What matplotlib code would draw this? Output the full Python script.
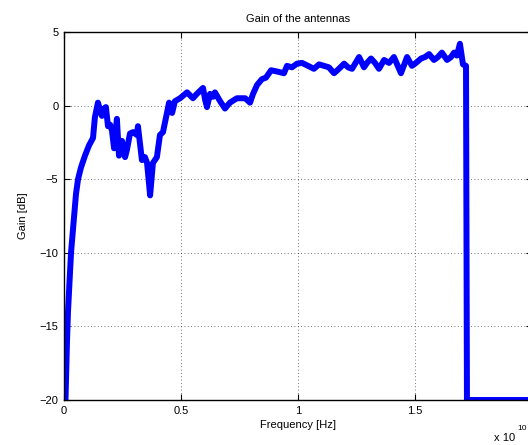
import numpy as np
import matplotlib
matplotlib.use('Agg')
import matplotlib.pyplot as plt

plt.rcParams['font.family'] = ['Liberation Sans', 'DejaVu Sans']

# Frequency in units of 1e10 Hz, gain in dB
freq = [0.0064, 0.0128, 0.0171, 0.0235, 0.030, 0.0406, 0.0513, 0.060, 0.0726, 0.0897,
        0.107, 0.124, 0.132, 0.145, 0.154, 0.162, 0.171, 0.179, 0.188, 0.197,
        0.205, 0.214, 0.226, 0.235, 0.248, 0.261, 0.269, 0.282, 0.295, 0.312,
        0.316, 0.333, 0.346, 0.355, 0.368, 0.380, 0.397, 0.410, 0.423, 0.440,
        0.449, 0.462, 0.474, 0.496, 0.526, 0.551, 0.568, 0.581, 0.594, 0.603,
        0.611, 0.624, 0.637, 0.645, 0.667, 0.688, 0.709, 0.739, 0.774, 0.795,
        0.808, 0.825, 0.846, 0.863, 0.885, 0.915, 0.940, 0.953, 0.974, 0.996,
        1.017, 1.043, 1.068, 1.090, 1.111, 1.132, 1.154, 1.175, 1.197, 1.214,
        1.231, 1.261, 1.282, 1.295, 1.312, 1.329, 1.346, 1.368, 1.389, 1.410,
        1.440, 1.466, 1.487, 1.504, 1.526, 1.543, 1.560, 1.581, 1.598, 1.615,
        1.637, 1.654, 1.667, 1.679, 1.692, 1.705, 1.718, 1.722, 2.0]
gain = [-20, -16, -14, -12, -10, -8, -6, -5, -4.2, -3.4,
        -2.7, -2.2, -0.8, 0.2, -0.3, -0.7, -0.2, -0.1, -1.4, -1.3,
        -1.7, -2.9, -0.9, -3.4, -2.4, -3.5, -3.0, -1.9, -1.8, -2.0,
        -1.4, -3.7, -3.5, -3.9, -6.1, -3.9, -3.5, -2.0, -1.8, -0.5,
        0.2, -0.5, 0.3, 0.5, 0.9, 0.5, 0.8, 1.0, 1.2, 0.4,
        -0.1, 0.8, 0.6, 0.9, 0.3, -0.2, 0.2, 0.5, 0.5, 0.2,
        0.8, 1.4, 1.8, 1.9, 2.4, 2.3, 2.2, 2.7, 2.6, 2.85,
        2.9, 2.7, 2.5, 2.8, 2.7, 2.6, 2.2, 2.5, 2.85, 2.6,
        2.5, 3.3, 2.6, 2.9, 3.2, 2.9, 2.5, 3.1, 2.9, 3.3,
        2.2, 3.3, 2.7, 2.9, 3.2, 3.3, 3.5, 3.1, 3.3, 3.6,
        3.1, 3.3, 3.6, 3.4, 4.2, 2.8, 2.7, -20, -20]

xticks = [0, 0.5, 1, 1.5, 2]
xticklabels = ['0', '0.5', '1', '1.5', '2']
yticks = [-20, -15, -10, -5, 0, 5]

fig = plt.figure(figsize=(5.28, 4.45), dpi=100)
# axes run a little past the right edge, like the cropped original
ax = fig.add_axes([64 / 528, 45 / 445, 468 / 528, 368 / 445])

ax.plot(freq, gain, color='#0000ff', linewidth=4.3, solid_joinstyle='round')

ax.set_xlim(0, 2)
ax.set_ylim(-20, 5)
ax.set_xticks(xticks)
ax.set_xticklabels(xticklabels)
ax.set_yticks(yticks)
ax.set_yticklabels([str(v).replace('-', '\u2212') for v in yticks])

ax.grid(True, color='k', linestyle=(0, (1, 3)), linewidth=0.6, alpha=0.7)
ax.tick_params(direction='in', top=True, right=True, length=4, width=0.8,
               labelsize=8, pad=4)
for sp in ax.spines.values():
    sp.set_linewidth(1.0)

ax.set_title('Gain of the antennas', fontsize=8, pad=7)
ax.set_xlabel('Frequency [Hz]', fontsize=8, labelpad=3)
ax.set_ylabel('Gain [dB]', fontsize=8, labelpad=8)

fig.text(494 / 528, 1 - 438 / 445, 'x 10', fontsize=8, ha='left', va='center')
fig.text(517 / 528, 1 - 429 / 445, '10', fontsize=6, ha='left', va='center')

fig.savefig('out.png', dpi=100)
